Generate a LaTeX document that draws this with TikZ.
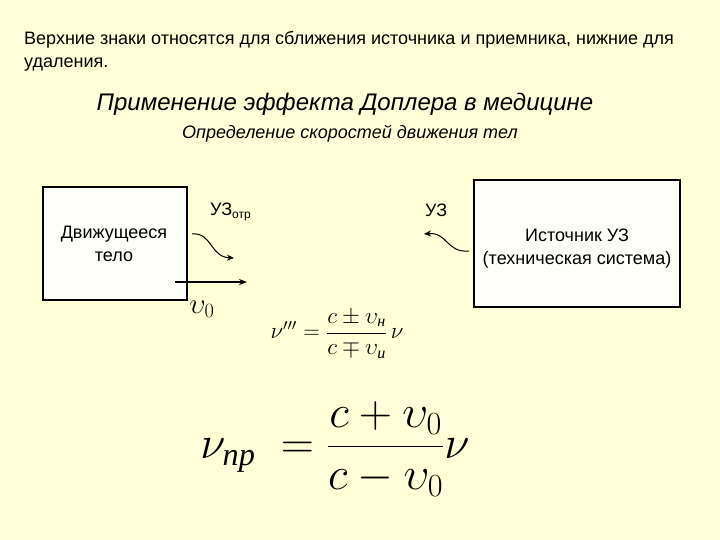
\RequirePackage{fix-cm}
\documentclass[tikz,border=0pt]{standalone}
\usepackage{amsmath}
\usepackage{fontspec}
\setmainfont{Liberation Sans}
\newfontfamily\timesfont{Liberation Serif}
\usetikzlibrary{arrows.meta}
\definecolor{slidebg}{HTML}{FFFFD8}
\definecolor{boxfill}{HTML}{FFFFFA}
\newcommand{\cyrsub}[1]{\text{\timesfont\itshape #1}}
\begin{document}
\begin{tikzpicture}[
    x=1pt, y=-1pt,
    body/.style={rectangle, draw=black, line width=1.2pt, fill=boxfill},
    label/.style={inner sep=0pt, font=\fontsize{18}{23}\selectfont, align=center},
    wave/.style={draw, line width=1pt, -{Stealth[length=7pt, width=6pt]}},
    motion/.style={draw, line width=1.2pt, -{Stealth[length=8pt, width=6pt]}}
]
\fill[slidebg] (0,0) rectangle (720,540);

% Texts
\node[anchor=west, inner sep=0pt, align=left, font=\fontsize{18}{23}\selectfont] (note) at (24,51)
    {Верхние знаки относятся для сближения источника и приемника, нижние для\\удаления.};
\node[inner sep=0pt, font=\fontsize{24}{28}\selectfont\itshape] (title) at (345,104)
    {Применение эффекта Доплера в медицине};
\node[inner sep=0pt, font=\fontsize{18}{21}\selectfont\itshape] (subtitle) at (350,134)
    {Определение скоростей движения тел};

% Boxes
\path[body] (43,187) rectangle (187,300);
\node[label] (body) at (114,244) {Движущееся\\тело};
\path[body] (474,180) rectangle (680,307);
\node[label] (source) at (577,249) {Источник УЗ\\(техническая система)};

\node[label, anchor=west] (reflected) at (210,212) {УЗ\textsubscript{\fontsize{12}{12}\selectfont отр}};
\node[label, anchor=west] (emitted) at (425,210) {УЗ};

% Waves
\coordinate (w1a) at (192,234);
\coordinate (w1b) at (234,258);
\coordinate (w2a) at (469,251);
\coordinate (w2b) at (424,234);
\path[wave] (w1a) .. controls (212,232) and (210,257) .. (w1b);
\path[wave] (w2a) .. controls (446,253) and (448,232) .. (w2b);

% Velocity
\coordinate (v0a) at (175,282);
\coordinate (v0b) at (247,282);
\path[motion] (v0a) -- (v0b);
\node[inner sep=0pt, font=\fontsize{29}{29}\selectfont] (speed) at (202,309) {$\upsilon_0$};

% Formulas
\node[inner sep=0pt, font=\fontsize{23}{23}\selectfont] (small) at (337,334)
    {$\nu^{\prime\prime\prime} = \dfrac{c \pm \upsilon_{\cyrsub{н}}}{c \mp \upsilon_{\cyrsub{и}}}\,\nu$};
\node[inner sep=0pt, font=\fontsize{46}{46}\selectfont] (large) at (335,449)
    {$\nu_{\cyrsub{пр}} \; = \dfrac{c + \upsilon_0}{c - \upsilon_0}\nu$};
\end{tikzpicture}
\end{document}
